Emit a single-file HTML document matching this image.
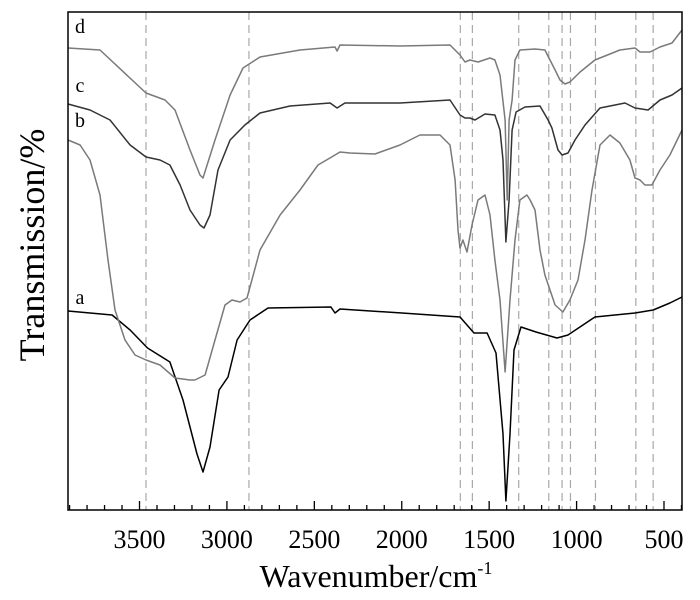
<!DOCTYPE html>
<html><head><meta charset="utf-8"><style>
body{margin:0;background:#fff;}
svg{display:block;font-family:"Liberation Serif",serif;}
</style></head><body>
<svg id="chart" width="700" height="600"></svg>
<script>
const wavenumbers = {
  a:[3909,3657,3554,3454,3326,3251,3171,3137,3097,3045,2994,2942,2868,2765,2405,2382,2353,1999,1667,1587,1512,1461,1421,1404,1381,1358,1318,1232,1112,1049,895,666,562,466,397],
  b:[3909,3840,3783,3726,3680,3640,3583,3526,3463,3383,3297,3211,3183,3125,3068,3011,2971,2925,2885,2857,2811,2696,2582,2479,2382,2353,2296,2153,2010,1896,1781,1724,1695,1678,1667,1650,1627,1598,1564,1524,1495,1467,1438,1409,1381,1352,1324,1284,1266,1238,1209,1181,1152,1123,1078,1038,992,952,912,866,809,752,695,666,637,609,569,523,466,397],
  c:[3909,3783,3669,3554,3463,3383,3326,3268,3211,3154,3131,3097,3051,2982,2897,2811,2639,2410,2370,2325,2010,1724,1667,1638,1610,1581,1524,1467,1438,1421,1404,1386,1369,1346,1295,1209,1163,1141,1106,1083,1049,1009,952,866,723,666,591,523,454,397],
  d:[3909,3726,3463,3354,3297,3211,3154,3137,3068,2982,2908,2811,2582,2382,2370,2353,2010,1724,1667,1638,1610,1564,1495,1467,1438,1409,1397,1386,1369,1352,1324,1238,1181,1152,1123,1095,1066,1038,980,895,752,666,637,580,523,454,397]
};
const transA = [199,195,180,162,148,110,56,38,63,120,133,170,190,202,203,197,201,197,193,177,177,157,76,9,76,160,183,178,172,175,193,197,200,207,213];
const transB = [370,365,350,315,250,200,170,155,150,145,132,130,130,135,170,205,210,208,212,230,260,295,320,345,355,358,357,356,365,375,375,365,330,280,262,270,258,285,310,315,295,250,210,138,210,270,310,315,310,300,260,235,220,205,198,210,230,270,320,365,375,367,350,332,330,325,325,340,355,380];
const transC = [406,400,390,365,353,350,345,325,300,285,282,295,340,370,385,397,404,407,402,407,407,410,395,392,392,390,396,395,380,350,268,310,380,398,403,404,390,382,360,355,357,370,385,402,407,402,400,410,415,422];
const transD = [462,460,417,410,400,360,335,332,370,415,442,453,460,463,459,465,464,465,455,448,450,448,452,450,435,390,310,390,410,450,460,461,460,450,440,430,426,428,438,450,460,462,458,458,463,467,480];
const markerLines = [3463,2874,1665,1596,1331,1159,1083,1035,892,661,562];
const tickLabels = [3500,3000,2500,2000,1500,1000,500];
const curveLabels = ["d","c","b","a"];

const NS="http://www.w3.org/2000/svg";
const svg=document.getElementById('chart');
const L=68,R=682,T=12,B=510;
const W0=3909,W1=397;
function xs(w){return L+(W0-w)/(W0-W1)*(R-L);}
function ys(v){return B-v/498*(B-T);}
function mk(tag,attrs){const e=document.createElementNS(NS,tag);for(const k in attrs)e.setAttribute(k,attrs[k]);svg.appendChild(e);return e;}

markerLines.forEach(w=>{
  const l=mk('line',{x1:xs(w),x2:xs(w),y1:T,y2:B,stroke:'#a8a8a8','stroke-width':1.2,'stroke-dasharray':'8,5'});
  
  
});

const series=[['a',transA,'#000'],['b',transB,'#7a7a7a'],['c',transC,'#333'],['d',transD,'#7a7a7a']];
series.forEach(([k,vals,col])=>{
  const pts=wavenumbers[k].map((w,i)=>xs(w).toFixed(1)+','+ys(vals[i]).toFixed(1)).join(' ');
  const p=mk('polyline',{points:pts,fill:'none',stroke:col,'stroke-width':1.5,'stroke-linejoin':'round'});
  
  
});

const frame=mk('rect',{x:L,y:T,width:R-L,height:B-T,fill:'none',stroke:'#000','stroke-width':1.5});



for(let w=3900;w>=400;w-=100){
  const major=w%500===0;
  const t=mk('line',{x1:xs(w),x2:xs(w),y1:B,y2:B-(major?9:5),stroke:'#000','stroke-width':1.3});
  
  
}
tickLabels.forEach(w=>{
  const t=mk('text',{x:xs(w),y:548,'font-size':26,'text-anchor':'middle',fill:'#000'});
  t.textContent=w;
  
  
});

const labelPos=[[80,33],[80,92],[80,127],[80,304]];
curveLabels.forEach((s,i)=>{
  const t=mk('text',{x:labelPos[i][0],y:labelPos[i][1],'font-size':20,'text-anchor':'middle',fill:'#000'});
  t.textContent=s;
  
  
});

const xt=mk('text',{x:376,y:587,'font-size':32,'text-anchor':'middle',fill:'#000'});
xt.innerHTML='Wavenumber/cm<tspan dy="-13" font-size="18">-1</tspan>';



const yt=mk('text',{x:0,y:0,'font-size':36,'text-anchor':'middle',fill:'#000',transform:'translate(44,245) rotate(-90)'});
yt.textContent='Transmission/%';


</script>
</body></html>
